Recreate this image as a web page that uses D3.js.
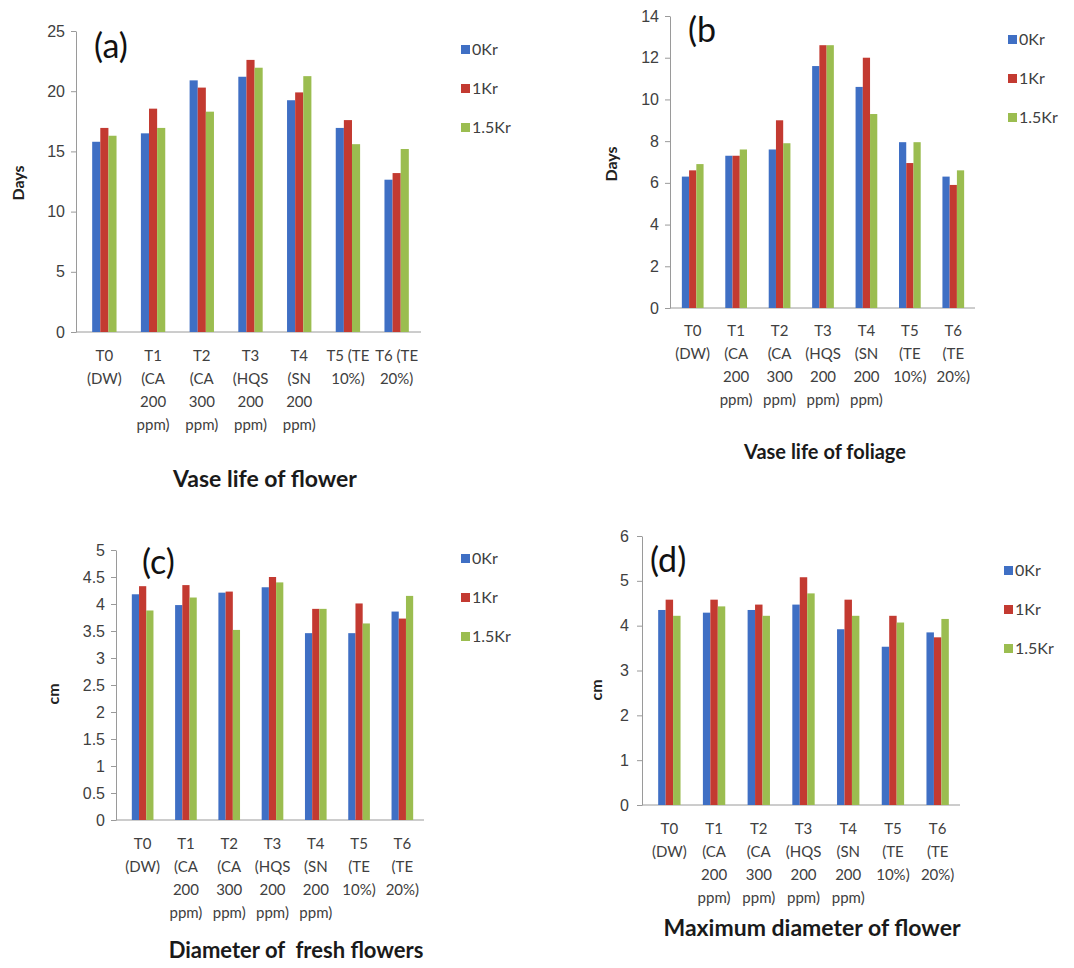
<!DOCTYPE html>
<html>
<head>
<meta charset="utf-8">
<script src="https://cdn.jsdelivr.net/npm/d3@7"></script>
<style>
  body { margin: 0; background: #fff; }
  svg { display: block; font-family: Lato, 'Open Sans', sans-serif; }
  .domain, .tick line { stroke: #9a9a9a; }
  .tick text { fill: #404040; font-size: 16px; }
</style>
</head>
<body>
<div id="chart"></div>
<script>
const categories = ['T0', 'T1', 'T2', 'T3', 'T4', 'T5', 'T6'];
const seriesNames = ['0Kr', '1Kr', '1.5Kr'];
const colors = ['#3f6fc4', '#c33a31', '#9bbd50'];

// x tick label lines
const labelsA = [['T0', '(DW)'], ['T1', '(CA', '200', 'ppm)'], ['T2', '(CA', '300', 'ppm)'],
  ['T3', '(HQS', '200', 'ppm)'], ['T4', '(SN', '200', 'ppm)'], ['T5 (TE', '10%)'], ['T6 (TE', '20%)']];
const labelsB = [['T0', '(DW)'], ['T1', '(CA', '200', 'ppm)'], ['T2', '(CA', '300', 'ppm)'],
  ['T3', '(HQS', '200', 'ppm)'], ['T4', '(SN', '200', 'ppm)'], ['T5', '(TE', '10%)'], ['T6', '(TE', '20%)']];

// (a) vase life of flower, days
const flowerLife0 = [15.8, 16.5, 20.9, 21.2, 19.25, 16.95, 12.65];
const flowerLife1 = [16.95, 18.55, 20.3, 22.6, 19.9, 17.6, 13.2];
const flowerLife15 = [16.3, 16.95, 18.3, 21.95, 21.25, 15.6, 15.2];
const ticksA = [0, 5, 10, 15, 20, 25];

// (b) vase life of foliage, days
const foliageLife0 = [6.3, 7.3, 7.6, 11.6, 10.6, 7.95, 6.3];
const foliageLife1 = [6.6, 7.3, 9.0, 12.6, 12.0, 6.95, 5.9];
const foliageLife15 = [6.9, 7.6, 7.9, 12.6, 9.3, 7.95, 6.6];
const ticksB = [0, 2, 4, 6, 8, 10, 12, 14];

// (c) diameter of fresh flowers, cm
const freshDiam0 = [4.18, 3.98, 4.21, 4.31, 3.46, 3.46, 3.86];
const freshDiam1 = [4.33, 4.35, 4.23, 4.5, 3.91, 4.01, 3.73];
const freshDiam15 = [3.88, 4.12, 3.52, 4.4, 3.91, 3.64, 4.15];
const ticksC = [0, 0.5, 1, 1.5, 2, 2.5, 3, 3.5, 4, 4.5, 5];

// (d) maximum diameter of flower, cm
const maxDiam0 = [4.35, 4.29, 4.35, 4.47, 3.92, 3.53, 3.85];
const maxDiam1 = [4.58, 4.58, 4.47, 5.08, 4.58, 4.22, 3.74];
const maxDiam15 = [4.22, 4.43, 4.22, 4.72, 4.22, 4.07, 4.15];
const ticksD = [0, 1, 2, 3, 4, 5, 6];

const svg = d3.select('#chart').append('svg').attr('width', 1074).attr('height', 968);

function drawPanel(p) {
  const g = svg.append('g');
  const x = d3.scaleBand().domain(categories).range([p.x0, p.x1]).paddingInner(0.5).paddingOuter(0.25);
  const xs = d3.scaleBand().domain(seriesNames).range([0, x.bandwidth()]);
  const y = d3.scaleLinear().domain([0, p.max]).range([p.yBottom, p.yTop]);

  const yAxis = d3.axisLeft(y).tickValues(p.ticks).tickSize(5).tickSizeOuter(0).tickPadding(p.pad).tickFormat(d => String(d));
  g.append('g').attr('transform', 'translate(' + p.axisX + ',0)').call(yAxis);

  g.append('line').attr('x1', p.axisX).attr('x2', p.x1).attr('y1', p.yBottom).attr('y2', p.yBottom).attr('stroke', '#9a9a9a');

  const rows = categories.map((c, i) => ({ c: c, vals: p.values.map(s => s[i]) }));
  g.selectAll('g.grp').data(rows).enter().append('g')
    .attr('transform', d => 'translate(' + x(d.c) + ',0)')
    .selectAll('rect').data(d => d.vals.map((v, k) => ({ k: k, v: v }))).enter().append('rect')
    .attr('x', d => xs(seriesNames[d.k]))
    .attr('width', xs.bandwidth())
    .attr('y', d => y(d.v))
    .attr('height', d => y(0) - y(d.v))
    .attr('fill', d => colors[d.k]);

  // multi-line category labels
  const lab = g.selectAll('text.xl').data(categories).enter().append('text')
    .attr('text-anchor', 'middle').attr('font-size', 15).attr('fill', '#404040')
    .attr('transform', d => 'translate(' + (x(d) + x.bandwidth() / 2) + ',' + p.labelY + ')');
  lab.each(function (d, i) {
    d3.select(this).selectAll('tspan').data(p.labels[i]).enter().append('tspan')
      .attr('x', 0).attr('y', (t, j) => j * 23).text(t => t);
  });

  // legend
  seriesNames.forEach((s, k) => {
    g.append('rect').attr('x', p.legX).attr('y', p.legY + k * 39 - 5).attr('width', 9).attr('height', 9).attr('fill', colors[k]);
    g.append('text').attr('x', p.legX + 11).attr('y', p.legY + k * 39 + 5).attr('font-size', 16).attr('fill', '#404040').text(s);
  });

  g.append('text').attr('x', p.tagX).attr('y', p.tagY).attr('font-size', 34).attr('fill', '#111').text(p.tag);

  g.append('text').attr('transform', 'translate(' + p.unitX + ',' + p.unitY + ') rotate(-90)')
    .attr('text-anchor', 'middle').attr('font-size', 16).attr('font-weight', 'bold').attr('fill', '#222').text(p.unit);

  g.append('text').attr('x', p.titleX).attr('y', p.titleY).attr('text-anchor', 'middle')
    .attr('font-size', p.titleSize).attr('font-weight', 'bold').attr('fill', '#1a1a1a')
    .style('white-space', 'pre').text(p.title);
}

drawPanel({ values: [flowerLife0, flowerLife1, flowerLife15], ticks: ticksA, max: 25, labels: labelsA,
  axisX: 76, x0: 80, x1: 421, yTop: 31, yBottom: 332, pad: 6, labelY: 361,
  legX: 461, legY: 50, tag: '(a)', tagX: 94, tagY: 58, unit: 'Days', unitX: 24, unitY: 183,
  title: 'Vase life of flower', titleSize: 23, titleX: 265, titleY: 487 });

drawPanel({ values: [foliageLife0, foliageLife1, foliageLife15], ticks: ticksB, max: 14, labels: labelsB,
  axisX: 670, x0: 671, x1: 975, yTop: 16, yBottom: 308, pad: 6, labelY: 336,
  legX: 1008, legY: 40, tag: '(b', tagX: 688, tagY: 42, unit: 'Days', unitX: 617, unitY: 164,
  title: 'Vase life of foliage', titleSize: 20, titleX: 825, titleY: 459 });

drawPanel({ values: [freshDiam0, freshDiam1, freshDiam15], ticks: ticksC, max: 5, labels: labelsB,
  axisX: 116, x0: 121, x1: 424, yTop: 550, yBottom: 820, pad: 6, labelY: 849,
  legX: 461, legY: 559, tag: '(c)', tagX: 142, tagY: 574, unit: 'cm', unitX: 59, unitY: 694,
  title: 'Diameter of  fresh flowers', titleSize: 22, titleX: 296, titleY: 958 });

drawPanel({ values: [maxDiam0, maxDiam1, maxDiam15], ticks: ticksD, max: 6, labels: labelsB,
  axisX: 642, x0: 647, x1: 960, yTop: 536, yBottom: 805, pad: 8, labelY: 834,
  legX: 1004, legY: 571, tag: '(d)', tagX: 650, tagY: 572, unit: 'cm', unitX: 602, unitY: 690,
  title: 'Maximum diameter of flower', titleSize: 23, titleX: 812, titleY: 936 });
</script>
</body>
</html>
